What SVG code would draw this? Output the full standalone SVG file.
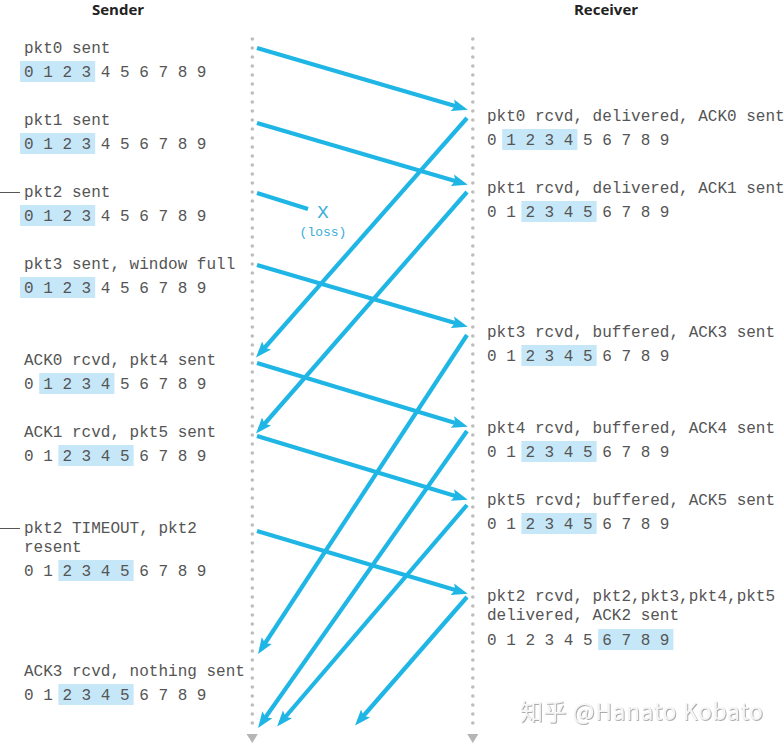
<svg xmlns="http://www.w3.org/2000/svg" width="784" height="744" viewBox="0 0 784 744">
<defs>
<style>
.t{font-family:"Liberation Mono","DejaVu Sans Mono",monospace;font-size:16px;fill:#555}
.title{font-family:"Open Sans","Noto Sans",sans-serif;font-size:15px;font-weight:700;fill:#222}
.hl{fill:#c6e7f8}
.life{stroke:#bdbdbd;stroke-width:3.6;stroke-linecap:round;stroke-dasharray:0 9;fill:none}
.msg{stroke:#1fb6e6;stroke-width:4.2;fill:none;marker-end:url(#ah)}
.tick{stroke:#555;stroke-width:1}
.loss{font-family:"Liberation Mono","DejaVu Sans Mono",monospace;fill:#3aaed8}
</style>
<marker id="ah" markerUnits="userSpaceOnUse" markerWidth="17" markerHeight="13" refX="10" refY="6.5" orient="auto">
<path d="M0,0.5 L16,6.5 L0,12.5 L3,6.5 Z" fill="#1fb6e6"/>
</marker>
<filter id="sh" x="-5%" y="-20%" width="110%" height="140%">
<feDropShadow dx="0.8" dy="0.8" stdDeviation="0.5" flood-color="#999"/>
</filter>
</defs>
<rect width="784" height="744" fill="#fff"/>

<g id="lifelines">
<line class="life" x1="252.3" y1="39" x2="252.3" y2="730"/>
<line class="life" x1="472.8" y1="39" x2="472.8" y2="730"/>
<polygon points="246.5,734 257.8,734 252.3,743" fill="#b5b5b5"/>
<polygon points="467.2,734 478.4,734 472.8,743" fill="#b5b5b5"/>
</g>

<g id="titles">
<text class="title" x="118" y="15" text-anchor="middle">Sender</text>
<text class="title" x="606" y="15" text-anchor="middle">Receiver</text>
</g>

<g id="connectors">
<path class="msg" d="M257,48 L462,108"/>
<path class="msg" d="M257,123 L462,183"/>
<path d="M257,193 L308,209" stroke="#1fb6e6" stroke-width="4.2" fill="none"/>
<path class="msg" d="M257,265 L462,325"/>
<path class="msg" d="M257,363 L462,425"/>
<path class="msg" d="M257,436 L462,498"/>
<path class="msg" d="M257,531 L462,592"/>
<path class="msg" d="M467,118 L260,353"/>
<path class="msg" d="M467,192 L260,429"/>
<path class="msg" d="M467,335 L261.3,649"/>
<path class="msg" d="M467,431 L261.5,723"/>
<path class="msg" d="M467,505 L281,722"/>
<path class="msg" d="M467,597 L359,721"/>
</g>

<g id="loss">
<text class="loss" x="323" y="218" font-size="19" text-anchor="middle">X</text>
<text class="loss" x="323" y="236" font-size="13" text-anchor="middle">(loss)</text>
</g>

<g id="ticks">
<line class="tick" x1="0" y1="192.5" x2="20" y2="192.5"/>
<line class="tick" x1="0" y1="528.5" x2="20" y2="528.5"/>
</g>

<g id="s-pkt0">
<rect class="hl" x="20" y="61" width="75.2" height="21"/>
<text class="t" x="24" y="53">pkt0 sent</text>
<text class="t" x="24" y="77">0 1 2 3 4 5 6 7 8 9</text>
</g>
<g id="s-pkt1">
<rect class="hl" x="20" y="133" width="75.2" height="21"/>
<text class="t" x="24" y="125">pkt1 sent</text>
<text class="t" x="24" y="149">0 1 2 3 4 5 6 7 8 9</text>
</g>
<g id="s-pkt2">
<rect class="hl" x="20" y="205" width="75.2" height="21"/>
<text class="t" x="24" y="197">pkt2 sent</text>
<text class="t" x="24" y="221">0 1 2 3 4 5 6 7 8 9</text>
</g>
<g id="s-pkt3">
<rect class="hl" x="20" y="277" width="75.2" height="21"/>
<text class="t" x="24" y="269">pkt3 sent, window full</text>
<text class="t" x="24" y="293">0 1 2 3 4 5 6 7 8 9</text>
</g>
<g id="s-ack0">
<rect class="hl" x="39.2" y="373" width="75.2" height="21"/>
<text class="t" x="24" y="365">ACK0 rcvd, pkt4 sent</text>
<text class="t" x="24" y="389">0 1 2 3 4 5 6 7 8 9</text>
</g>
<g id="s-ack1">
<rect class="hl" x="58.4" y="445" width="75.2" height="21"/>
<text class="t" x="24" y="437">ACK1 rcvd, pkt5 sent</text>
<text class="t" x="24" y="461">0 1 2 3 4 5 6 7 8 9</text>
</g>
<g id="s-timeout">
<rect class="hl" x="58.4" y="560" width="75.2" height="21"/>
<text class="t" x="24" y="533">pkt2 TIMEOUT, pkt2</text>
<text class="t" x="24" y="552">resent</text>
<text class="t" x="24" y="576">0 1 2 3 4 5 6 7 8 9</text>
</g>
<g id="s-ack3">
<rect class="hl" x="58.4" y="684" width="75.2" height="21"/>
<text class="t" x="24" y="676">ACK3 rcvd, nothing sent</text>
<text class="t" x="24" y="700">0 1 2 3 4 5 6 7 8 9</text>
</g>

<g id="r-pkt0">
<rect class="hl" x="502.2" y="129" width="75.2" height="21"/>
<text class="t" x="487" y="121">pkt0 rcvd, delivered, ACK0 sent</text>
<text class="t" x="487" y="145">0 1 2 3 4 5 6 7 8 9</text>
</g>
<g id="r-pkt1">
<rect class="hl" x="521.4" y="201" width="75.2" height="21"/>
<text class="t" x="487" y="193">pkt1 rcvd, delivered, ACK1 sent</text>
<text class="t" x="487" y="217">0 1 2 3 4 5 6 7 8 9</text>
</g>
<g id="r-pkt3">
<rect class="hl" x="521.4" y="345" width="75.2" height="21"/>
<text class="t" x="487" y="337">pkt3 rcvd, buffered, ACK3 sent</text>
<text class="t" x="487" y="361">0 1 2 3 4 5 6 7 8 9</text>
</g>
<g id="r-pkt4">
<rect class="hl" x="521.4" y="441" width="75.2" height="21"/>
<text class="t" x="487" y="433">pkt4 rcvd, buffered, ACK4 sent</text>
<text class="t" x="487" y="457">0 1 2 3 4 5 6 7 8 9</text>
</g>
<g id="r-pkt5">
<rect class="hl" x="521.4" y="513" width="75.2" height="21"/>
<text class="t" x="487" y="505">pkt5 rcvd; buffered, ACK5 sent</text>
<text class="t" x="487" y="529">0 1 2 3 4 5 6 7 8 9</text>
</g>
<g id="r-pkt2">
<rect class="hl" x="598.2" y="629" width="75.2" height="21"/>
<text class="t" x="487" y="601">pkt2 rcvd, pkt2,pkt3,pkt4,pkt5</text>
<text class="t" x="487" y="620">delivered, ACK2 sent</text>
<text class="t" x="487" y="645">0 1 2 3 4 5 6 7 8 9</text>
</g>

<g id="watermark">
<text x="520" y="720" font-family="'Noto Sans CJK SC','Noto Sans',sans-serif" font-size="23" textLength="243" fill="#f6f6f6" filter="url(#sh)">知乎 @Hanato Kobato</text>
</g>
</svg>
